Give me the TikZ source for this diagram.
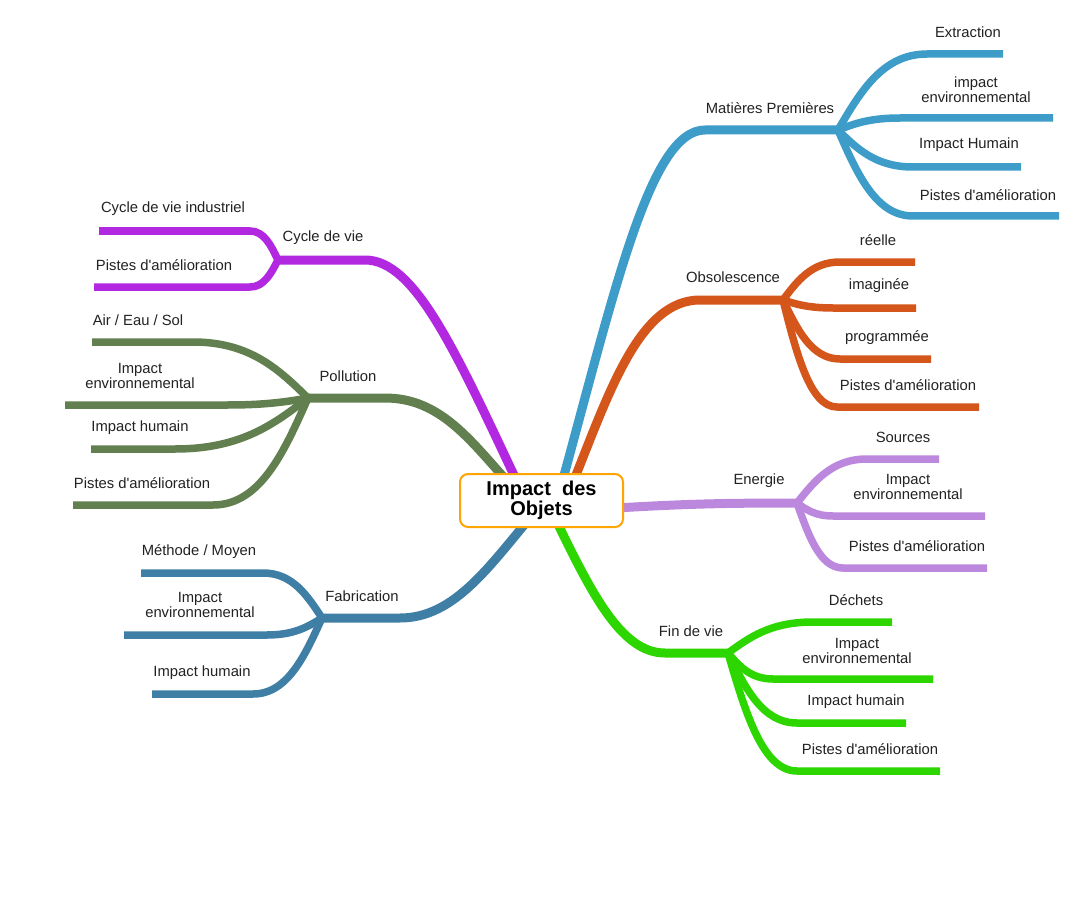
\documentclass[tikz,border=0pt]{standalone}
\usepackage{fontspec}
\setmainfont{Liberation Sans}[Ligatures=TeXOff]
\usetikzlibrary{calc}
\definecolor{cMat}{HTML}{3D9DC8}
\definecolor{cObs}{HTML}{D4561A}
\definecolor{cEne}{HTML}{BB88DD}
\definecolor{cFin}{HTML}{2ED600}
\definecolor{cFab}{HTML}{3F7FA6}
\definecolor{cPol}{HTML}{62804F}
\definecolor{cCyc}{HTML}{B128E0}
\definecolor{cBord}{HTML}{FFA500}
\definecolor{cTxt}{HTML}{222222}
\newcommand\mmap{\char39\relax}
\newcommand\mmtwig[4]{%
  \draw[#1] let \p1=(#2), \p2=(#3) in (#2) .. controls ({\x1+0.25*(\x2-\x1)},{\y1+0.5*(\y2-\y1)}) and ({\x1+0.5*(\x2-\x1)},{\y2}) .. (#3) -- (#4);
}
\begin{document}
\begin{tikzpicture}[x=1pt,y=-1pt,
  trunk/.style={line width=9pt,line cap=butt},
  twig/.style={line width=7.5pt,line cap=butt},
  lbl/.style={font=\fontsize{14.8}{15}\selectfont,text=cTxt,align=center,inner sep=0pt},
  central/.style={draw=cBord,line width=2pt,rounded corners=8pt,fill=white,minimum width=163pt,minimum height=53pt,align=center,font=\fontsize{20}{20}\selectfont\bfseries,inner sep=0pt}]
\fill[white] (0,0) rectangle (1084,920);
\useasboundingbox (0,0) rectangle (1084,920);

% ---------- trunk coordinates
\coordinate (sMat) at (560,490); \coordinate (kMat) at (705,130); \coordinate (jMat) at (838,130);
\coordinate (sObs) at (574,480); \coordinate (kObs) at (700,300); \coordinate (jObs) at (783,300);
\coordinate (sEne) at (600,509); \coordinate (jEne) at (797,503);
\coordinate (sFin) at (552,512); \coordinate (kFin) at (665,653); \coordinate (jFin) at (728,653);
\coordinate (sFab) at (535,512); \coordinate (kFab) at (400,618); \coordinate (jFab) at (322,618);
\coordinate (sPol) at (508,482); \coordinate (kPol) at (385,398); \coordinate (jPol) at (308,398);
\coordinate (sCyc) at (520,488); \coordinate (kCyc) at (365,260); \coordinate (jCyc) at (278,260);

\draw[trunk,cMat] (sMat) .. controls (615,290) and (650,130) .. (kMat) -- (jMat);
\draw[trunk,cObs] (sObs) .. controls (610,390) and (640,300) .. (kObs) -- (jObs);
\draw[trunk,cEne] (sEne) .. controls (680,504) and (720,503) .. (jEne);
\draw[trunk,cFin] (sFin) .. controls (590,590) and (620,653) .. (kFin) -- (jFin);
\draw[trunk,cFab] (sFab) .. controls (490,565) and (455,618) .. (kFab) -- (jFab);
\draw[trunk,cPol] (sPol) .. controls (470,440) and (440,398) .. (kPol) -- (jPol);
\draw[trunk,cCyc] (sCyc) .. controls (455,350) and (415,260) .. (kCyc) -- (jCyc);

% ---------- Matières Premières
\coordinate (m1a) at (927,54);  \coordinate (m1b) at (1003,54);
\coordinate (m2a) at (900,118); \coordinate (m2b) at (1053,118);
\coordinate (m3a) at (913,167); \coordinate (m3b) at (1021,167);
\coordinate (m4a) at (913,216); \coordinate (m4b) at (1059,216);
\mmtwig{twig,cMat}{jMat}{m1a}{m1b}
\mmtwig{twig,cMat}{jMat}{m2a}{m2b}
\mmtwig{twig,cMat}{jMat}{m3a}{m3b}
\mmtwig{twig,cMat}{jMat}{m4a}{m4b}

% ---------- Obsolescence
\coordinate (o1a) at (840,262); \coordinate (o1b) at (915,262);
\coordinate (o2a) at (833,308); \coordinate (o2b) at (916,308);
\coordinate (o3a) at (840,359); \coordinate (o3b) at (931,359);
\coordinate (o4a) at (837,407); \coordinate (o4b) at (979,407);
\mmtwig{twig,cObs}{jObs}{o1a}{o1b}
\mmtwig{twig,cObs}{jObs}{o2a}{o2b}
\mmtwig{twig,cObs}{jObs}{o3a}{o3b}
\mmtwig{twig,cObs}{jObs}{o4a}{o4b}

% ---------- Energie
\coordinate (e1a) at (867,459); \coordinate (e1b) at (939,459);
\coordinate (e2a) at (833,516); \coordinate (e2b) at (985,516);
\coordinate (e3a) at (843,568); \coordinate (e3b) at (987,568);
\mmtwig{twig,cEne}{jEne}{e1a}{e1b}
\mmtwig{twig,cEne}{jEne}{e2a}{e2b}
\mmtwig{twig,cEne}{jEne}{e3a}{e3b}

% ---------- Fin de vie
\coordinate (f1a) at (813,622); \coordinate (f1b) at (892,622);
\coordinate (f2a) at (773,679); \coordinate (f2b) at (933,679);
\coordinate (f3a) at (797,723); \coordinate (f3b) at (906,723);
\coordinate (f4a) at (797,771); \coordinate (f4b) at (940,771);
\mmtwig{twig,cFin}{jFin}{f1a}{f1b}
\mmtwig{twig,cFin}{jFin}{f2a}{f2b}
\mmtwig{twig,cFin}{jFin}{f3a}{f3b}
\mmtwig{twig,cFin}{jFin}{f4a}{f4b}

% ---------- Fabrication
\coordinate (b1a) at (263,573); \coordinate (b1b) at (141,573);
\coordinate (b2a) at (267,635); \coordinate (b2b) at (124,635);
\coordinate (b3a) at (253,694); \coordinate (b3b) at (152,694);
\mmtwig{twig,cFab}{jFab}{b1a}{b1b}
\mmtwig{twig,cFab}{jFab}{b2a}{b2b}
\mmtwig{twig,cFab}{jFab}{b3a}{b3b}

% ---------- Pollution
\coordinate (p1a) at (193,342); \coordinate (p1b) at (92,342);
\coordinate (p2a) at (227,405); \coordinate (p2b) at (65,405);
\coordinate (p3a) at (175,449); \coordinate (p3b) at (91,449);
\coordinate (p4a) at (213,505); \coordinate (p4b) at (73,505);
\mmtwig{twig,cPol}{jPol}{p1a}{p1b}
\mmtwig{twig,cPol}{jPol}{p2a}{p2b}
\mmtwig{twig,cPol}{jPol}{p3a}{p3b}
\mmtwig{twig,cPol}{jPol}{p4a}{p4b}

% ---------- Cycle de vie
\coordinate (c1a) at (250,231); \coordinate (c1b) at (99,231);
\coordinate (c2a) at (250,287); \coordinate (c2b) at (94,287);
\mmtwig{twig,cCyc}{jCyc}{c1a}{c1b}
\mmtwig{twig,cCyc}{jCyc}{c2a}{c2b}

% ---------- central node
\node[central] (ctr) at (541.5,500.5) {Impact\ \ des\\Objets};

% ---------- labels
\node[lbl] (lMat) at (770,108) {Matières Premières};
\node[lbl] (lm1) at (968,32) {Extraction};
\node[lbl] (lm2) at (976,90) {impact\\environnemental};
\node[lbl] (lm3) at (969,145) {Impact Humain};
\node[lbl] (lm4) at (988,195) {Pistes d\mmap amélioration};

\node[lbl] (lObs) at (733,277) {Obsolescence};
\node[lbl] (lo1) at (878,240) {réelle};
\node[lbl] (lo2) at (879,286) {imaginée};
\node[lbl] (lo3) at (887,338) {programmée};
\node[lbl] (lo4) at (908,385) {Pistes d\mmap amélioration};

\node[lbl] (lEne) at (759,481) {Energie};
\node[lbl] (le1) at (903,437) {Sources};
\node[lbl] (le2) at (908,487) {Impact\\environnemental};
\node[lbl] (le3) at (917,546) {Pistes d\mmap amélioration};

\node[lbl] (lFin) at (691,631) {Fin de vie};
\node[lbl] (lf1) at (856,600) {Déchets};
\node[lbl] (lf2) at (857,651) {Impact\\environnemental};
\node[lbl] (lf3) at (856,702) {Impact humain};
\node[lbl] (lf4) at (870,749) {Pistes d\mmap amélioration};

\node[lbl] (lFab) at (362,596) {Fabrication};
\node[lbl] (lb1) at (199,552) {Méthode / Moyen};
\node[lbl] (lb2) at (200,605) {Impact\\environnemental};
\node[lbl] (lb3) at (202,673) {Impact humain};

\node[lbl] (lPol) at (348,376) {Pollution};
\node[lbl] (lp1) at (138,320) {Air / Eau / Sol};
\node[lbl] (lp2) at (140,376) {Impact\\environnemental};
\node[lbl] (lp3) at (140,428) {Impact humain};
\node[lbl] (lp4) at (142,483) {Pistes d\mmap amélioration};

\node[lbl] (lCyc) at (323,238) {Cycle de vie};
\node[lbl] (lc1) at (173,209) {Cycle de vie industriel};
\node[lbl] (lc2) at (164,265) {Pistes d\mmap amélioration};
\end{tikzpicture}
\end{document}
